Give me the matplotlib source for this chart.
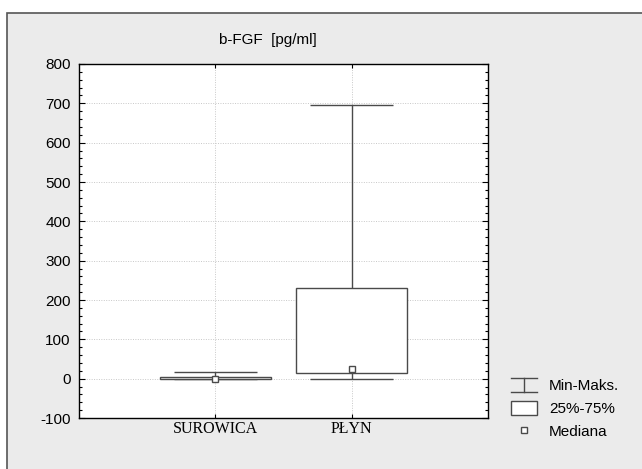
import numpy as np
import matplotlib
matplotlib.use("Agg")
import matplotlib.pyplot as plt
from matplotlib.patches import Rectangle
from matplotlib.lines import Line2D
from matplotlib.legend_handler import HandlerBase

# data
groups = ["SUROWICA", "PŁYN"]
mins = [0, 0]
maxs = [16, 695]
q1 = [-2, 14]
q3 = [4, 230]
medians = [0, 24]
title = "b-FGF  [pg/ml]"
yticks = [-100, 0, 100, 200, 300, 400, 500, 600, 700, 800]

edge = "#4a4a4a"
bg = "#ebebeb"

fig = plt.figure(figsize=(6.42, 4.69), dpi=100)
fig.patch.set_facecolor("white")
# gray panel with a border, like the screenshot
panel = Rectangle((7 / 642, -0.01), 1.0, (469 - 13) / 469 + 0.01,
                  transform=fig.transFigure, facecolor=bg,
                  edgecolor="#555555", linewidth=1.2, zorder=-1)
fig.add_artist(panel)

ax = fig.add_axes([79 / 642, 51 / 469, 409 / 642, 354 / 469])
ax.set_zorder(1)
ax.set_facecolor("white")
pos = np.arange(1, len(groups) + 1)

box_w = 0.81
cap_w = 0.61
for i, p in enumerate(pos):
    # whisker line, then caps
    ax.vlines(p, mins[i], maxs[i], color=edge, lw=1.0, zorder=2)
    ax.hlines([mins[i], maxs[i]], p - cap_w / 2, p + cap_w / 2, color=edge, lw=1.0, zorder=2)
    ax.bar(p, q3[i] - q1[i], bottom=q1[i], width=box_w, facecolor="white",
           edgecolor=edge, linewidth=1.0, zorder=3)
ax.plot(pos, medians, linestyle="none", marker="s", markersize=5,
        markerfacecolor="white", markeredgecolor=edge, markeredgewidth=1.0, zorder=4)

ax.set_xlim(0, 3)
ax.set_ylim(-100, 800)
ax.set_xticks(pos)
ax.set_xticklabels(groups, family="Liberation Serif", fontsize=11.5)
ax.set_yticks(yticks)
ax.set_yticklabels([str(v) for v in yticks], family="Liberation Sans", fontsize=11)
ax.set_yticks(np.arange(-100, 801, 20), minor=True)
ax.tick_params(axis="both", which="both", direction="in", top=True, right=True,
               color="black", width=0.8)
ax.tick_params(axis="y", which="major", length=4, pad=6)
ax.tick_params(axis="y", which="minor", length=2)
ax.tick_params(axis="x", which="major", length=3, pad=2.5)
ax.grid(True, which="major", linestyle=(0, (1, 1.5)), color="#c8c8c8", linewidth=0.7)
ax.set_axisbelow(True)
for s in ax.spines.values():
    s.set_color("black")
    s.set_linewidth(1.0)

fig.text(268 / 642, 1 - 40 / 469, title, ha="center", va="center",
         family="Liberation Sans", fontsize=11)


class MinMaxHandler(HandlerBase):
    def create_artists(self, legend, orig, xd, yd, w, h, fs, trans):
        x0, x1 = -xd, -xd + w
        yb, yt = -yd, -yd + h
        xm = (x0 + x1) / 2
        return [Line2D([x0, x1], [yt, yt], color=edge, lw=1.0, transform=trans),
                Line2D([x0, x1], [yb, yb], color=edge, lw=1.0, transform=trans),
                Line2D([xm, xm], [yb, yt], color=edge, lw=1.0, transform=trans)]


h_mm = Line2D([], [], color=edge)
h_box = Rectangle((0, 0), 1, 1, facecolor="white", edgecolor=edge, lw=1.0)
h_med = Line2D([], [], linestyle="none", marker="s", markersize=5,
               markerfacecolor="white", markeredgecolor=edge)
fig.legend([h_mm, h_box, h_med], ["Min-Maks.", "25%-75%", "Mediana"],
           handler_map={h_mm: MinMaxHandler()},
           loc="upper left", bbox_to_anchor=(497 / 642, 1 - 364 / 469),
           frameon=False, prop={"family": "Liberation Sans", "size": 11},
           handlelength=1.75, handleheight=1.1, handletextpad=0.75, labelspacing=0.48)

fig.savefig("out.png", dpi=100)
